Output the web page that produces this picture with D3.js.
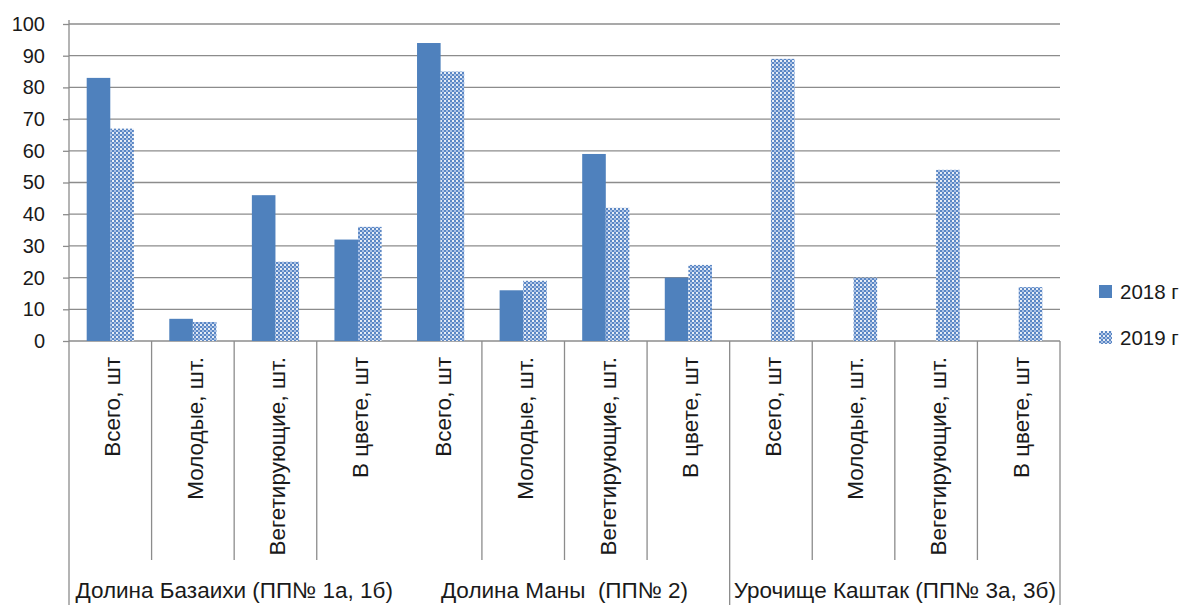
<!DOCTYPE html>
<html><head><meta charset="utf-8">
<script src="https://cdn.jsdelivr.net/npm/d3@7"></script>
<style>body{margin:0;background:#fff}svg{display:block}text{font-family:"Liberation Sans",Arial,sans-serif;fill:#1a1a1a;white-space:pre}</style>
</head><body><svg id="c" width="1186" height="605"></svg>
<script>
const categories = ["Всего, шт","Молодые, шт.","Вегетирующие, шт.","В цвете, шт",
  "Всего, шт","Молодые, шт.","Вегетирующие, шт.","В цвете, шт",
  "Всего, шт","Молодые, шт.","Вегетирующие, шт.","В цвете, шт"];
const groups = ["Долина Базаихи (ПП№ 1а, 1б)","Долина Маны  (ПП№ 2)","Урочище Каштак (ПП№ 3а, 3б)"];
const series = ["2018 г","2019 г"];
const values2018 = [83,7,46,32,94,16,59,20,0,0,0,0];
const values2019 = [67,6,25,36,85,19,42,24,89,20,54,17];
const yTicks = [0,10,20,30,40,50,60,70,80,90,100];

const svg = d3.select("#c");
const L=69, R=1060, T=24, B=341;
const x = d3.scaleBand().domain(d3.range(categories.length)).range([L,R]).padding(0);
const y = d3.scaleLinear().domain([0,100]).range([B,T]);
const inner = d3.scaleBand().domain(series).range([0,x.bandwidth()]).paddingInner(0).paddingOuter(0.75);

const defs = svg.append("defs");
const p = defs.append("pattern").attr("id","dots").attr("patternUnits","userSpaceOnUse").attr("width",4).attr("height",4);
p.append("rect").attr("width",4).attr("height",4).attr("fill","#5b87c4");
p.append("rect").attr("x",0).attr("y",0).attr("width",2).attr("height",2).attr("fill","#ffffff").attr("opacity",0.85);
p.append("rect").attr("x",2).attr("y",2).attr("width",2).attr("height",2).attr("fill","#a9c1e6");

const gridC="#8c8c8c";
svg.append("g").selectAll("line").data(yTicks.slice(1)).join("line")
  .attr("x1",L).attr("x2",R).attr("y1",d=>y(d)).attr("y2",d=>y(d)).attr("stroke",gridC).attr("stroke-width",1.3);
const ya = svg.append("g").attr("transform",`translate(${L},0)`).call(d3.axisLeft(y).tickValues(yTicks).tickSize(6).tickPadding(18));
ya.select(".domain").remove();
ya.selectAll(".tick line").attr("stroke",gridC).attr("stroke-width",1.3);
ya.selectAll(".tick text").attr("font-size",20).attr("fill","#1a1a1a").style("font-family","'Liberation Sans',Arial,sans-serif");
svg.append("line").attr("x1",L).attr("x2",L).attr("y1",T-4).attr("y2",605).attr("stroke",gridC).attr("stroke-width",1.3);
svg.append("line").attr("x1",L).attr("x2",R).attr("y1",B).attr("y2",B).attr("stroke",gridC).attr("stroke-width",1.3);
const seps = d3.range(1,categories.length+1).filter(i=>i!==4);
svg.append("g").selectAll("line").data(seps).join("line")
  .attr("x1",i=>i<categories.length?x(i):R).attr("x2",i=>i<categories.length?x(i):R)
  .attr("y1",B).attr("y2",i=>(i===8||i===12)?605:560)
  .attr("stroke",gridC).attr("stroke-width",1.3);

svg.append("g").selectAll("rect").data(values2018).join("rect")
  .attr("x",(d,i)=>x(i)+inner("2018 г")).attr("width",inner.bandwidth())
  .attr("y",d=>y(d)).attr("height",d=>B-y(d)).attr("fill","#4f81bd");
svg.append("g").selectAll("rect").data(values2019).join("rect")
  .attr("x",(d,i)=>x(i)+inner("2019 г")).attr("width",inner.bandwidth())
  .attr("y",d=>y(d)).attr("height",d=>B-y(d)).attr("fill","url(#dots)");

svg.append("g").selectAll("text").data(categories).join("text")
  .attr("transform",(d,i)=>`translate(${x(i)+x.bandwidth()/2+2},357) rotate(-90)`)
  .attr("text-anchor","end").attr("dy","0.35em").attr("font-size",22.5).text(d=>d);

svg.append("g").selectAll("text").data(groups).join("text")
  .attr("x",(d,i)=>x(i*4)+2*x.bandwidth()).attr("y",598)
  .attr("text-anchor","middle").attr("font-size",22.5).text(d=>d);

const lg = svg.append("g").selectAll("g").data(series).join("g")
  .attr("transform",(d,i)=>`translate(1099,${285+i*46})`);
lg.append("rect").attr("width",13).attr("height",13).attr("fill",(d,i)=>i===0?"#4f81bd":"url(#dots)");
lg.append("text").attr("x",21).attr("y",14).attr("font-size",20.5).text(d=>d);
</script></body></html>
